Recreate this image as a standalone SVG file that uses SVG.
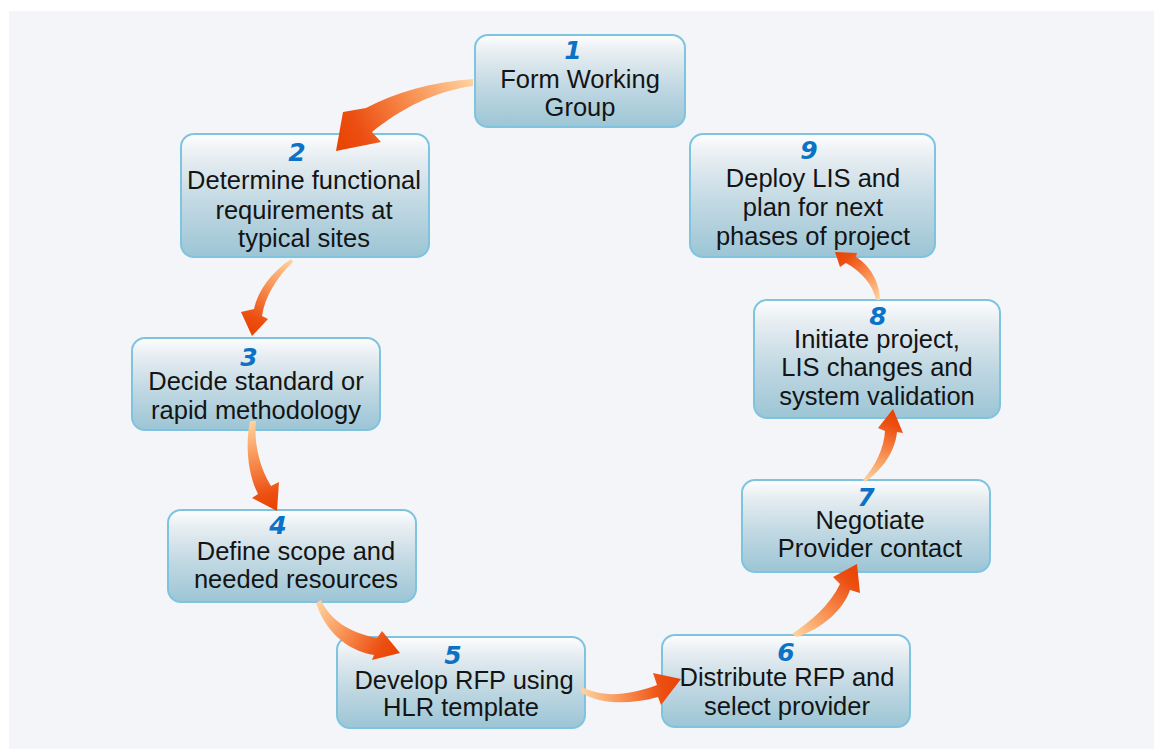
<svg xmlns="http://www.w3.org/2000/svg" xmlns:xlink="http://www.w3.org/1999/xlink" width="1154" height="749" viewBox="0 0 1154 749">
  <defs>
    <linearGradient id="boxFill" x1="0" y1="0" x2="0" y2="1">
      <stop offset="0" stop-color="#fdfeff"/>
      <stop offset="0.18" stop-color="#e8eef2"/>
      <stop offset="0.55" stop-color="#c2d9e3"/>
      <stop offset="1" stop-color="#9cc5d5"/>
    </linearGradient>
    <linearGradient id="arrowBase">
      <stop offset="0" stop-color="#ffd3a0"/>
      <stop offset="0.45" stop-color="#f7894a"/>
      <stop offset="0.8" stop-color="#ec4f12"/>
      <stop offset="1" stop-color="#e84200"/>
    </linearGradient>
    <linearGradient id="a1" xlink:href="#arrowBase" gradientUnits="userSpaceOnUse" x1="473" y1="82" x2="336" y2="151"/>
    <linearGradient id="a2" xlink:href="#arrowBase" gradientUnits="userSpaceOnUse" x1="292" y1="260" x2="252" y2="336"/>
    <linearGradient id="a3" xlink:href="#arrowBase" gradientUnits="userSpaceOnUse" x1="253" y1="421" x2="277" y2="511"/>
    <linearGradient id="a4" xlink:href="#arrowBase" gradientUnits="userSpaceOnUse" x1="318" y1="601" x2="400" y2="653"/>
    <linearGradient id="a5" xlink:href="#arrowBase" gradientUnits="userSpaceOnUse" x1="581" y1="689" x2="681" y2="679"/>
    <linearGradient id="a6" xlink:href="#arrowBase" gradientUnits="userSpaceOnUse" x1="794" y1="636" x2="857" y2="564"/>
    <linearGradient id="a7" xlink:href="#arrowBase" gradientUnits="userSpaceOnUse" x1="864" y1="481" x2="893" y2="409"/>
    <linearGradient id="a8" xlink:href="#arrowBase" gradientUnits="userSpaceOnUse" x1="878" y1="301" x2="835" y2="252"/>
    <style>
      .box { fill: url(#boxFill); stroke: #7fc4df; stroke-width: 2; }
      .num { font-family: "DejaVu Sans", Verdana, sans-serif; font-weight: bold; font-style: italic; font-size: 25px; fill: #0b72c6; text-anchor: middle; }
      .lbl { font-family: "Liberation Sans", Arial, sans-serif; font-size: 25.5px; fill: #141414; text-anchor: middle; }
    </style>
  </defs>

  <!-- page -->
  <rect width="1154" height="749" fill="#ffffff"/>
  <rect x="9" y="11" width="1145" height="738" fill="#f3f5f9"/>

  <g id="node1">
    <rect class="box" x="475" y="35" width="210" height="92" rx="13"/>
    <text class="num" x="573" y="59">1</text>
    <text class="lbl" x="580" y="88">Form Working</text>
    <text class="lbl" x="580" y="116">Group</text>
  </g>

  <g id="node2">
    <rect class="box" x="181" y="134" width="248" height="123" rx="13"/>
    <text class="num" x="297" y="161">2</text>
    <text class="lbl" x="304" y="189">Determine functional</text>
    <text class="lbl" x="304" y="219">requirements at</text>
    <text class="lbl" x="304" y="247">typical sites</text>
  </g>

  <g id="node3">
    <rect class="box" x="132" y="338" width="248" height="92" rx="13"/>
    <text class="num" x="249" y="366">3</text>
    <text class="lbl" x="256" y="390">Decide standard or</text>
    <text class="lbl" x="256" y="419">rapid methodology</text>
  </g>

  <g id="node4">
    <rect class="box" x="168" y="510" width="248" height="92" rx="13"/>
    <text class="num" x="278" y="534">4</text>
    <text class="lbl" x="296" y="560">Define scope and</text>
    <text class="lbl" x="296" y="588">needed resources</text>
  </g>

  <g id="node5">
    <rect class="box" x="337" y="637" width="248" height="91" rx="13"/>
    <text class="num" x="453" y="664">5</text>
    <text class="lbl" x="464" y="689">Develop RFP using</text>
    <text class="lbl" x="461" y="716">HLR template</text>
  </g>

  <g id="node6">
    <rect class="box" x="662" y="635" width="248" height="92" rx="13"/>
    <text class="num" x="786" y="661">6</text>
    <text class="lbl" x="787" y="686">Distribute RFP and</text>
    <text class="lbl" x="787" y="715">select provider</text>
  </g>

  <g id="node7">
    <rect class="box" x="742" y="480" width="248" height="92" rx="13"/>
    <text class="num" x="866" y="506">7</text>
    <text class="lbl" x="870" y="529">Negotiate</text>
    <text class="lbl" x="870" y="557">Provider contact</text>
  </g>

  <g id="node8">
    <rect class="box" x="754" y="300" width="246" height="118" rx="13"/>
    <text class="num" x="878" y="325">8</text>
    <text class="lbl" x="877" y="348">Initiate project,</text>
    <text class="lbl" x="877" y="376">LIS changes and</text>
    <text class="lbl" x="877" y="405">system validation</text>
  </g>

  <g id="node9">
    <rect class="box" x="690" y="134" width="245" height="123" rx="13"/>
    <text class="num" x="809" y="159">9</text>
    <text class="lbl" x="813" y="187">Deploy LIS and</text>
    <text class="lbl" x="813" y="216">plan for next</text>
    <text class="lbl" x="813" y="245">phases of project</text>
  </g>

  <!-- curved arrows, drawn over the box edges -->
  <g id="connectors">
    <path fill="url(#a1)" d="M 473,79 C 430,82 395,93 366,108 L 343,112 L 336,151 L 381,142 L 372,132 C 400,109 435,91 473,86 Z"/>
    <path fill="url(#a2)" d="M 291,259 C 272,272 258,290 254,309 L 241,312 L 252,336 L 268,319 L 262,316 C 265,296 277,277 293,262 Z"/>
    <path fill="url(#a3)" d="M 250,421 C 245,445 248,475 258,494 L 252,498 L 277,511 L 279,482 L 271,486 C 258,465 254,440 256,421 Z"/>
    <path fill="url(#a4)" d="M 321,600 C 330,620 350,633 377,638 L 382,631 L 400,653 L 372,660 L 374,655 C 345,650 325,630 316,603 Z"/>
    <path fill="url(#a5)" d="M 580,686 C 600,697 625,697 657,685 L 653,673 L 681,679 L 661,705 L 658,697 C 625,706 598,703 582,693 Z"/>
    <path fill="url(#a6)" d="M 792,634 C 810,622 830,605 840,584 L 833,577 L 857,564 L 860,593 L 850,590 C 843,610 823,628 797,637 Z"/>
    <path fill="url(#a7)" d="M 863,480 C 876,465 884,448 885,431 L 878,428 L 893,409 L 903,433 L 897,432 C 895,452 882,470 865,482 Z"/>
    <path fill="url(#a8)" d="M 880,300 C 880,284 871,266 856,257 L 857,253 L 835,252 L 840,267 L 846,263 C 862,272 873,285 876,300 Z"/>
  </g>
</svg>
